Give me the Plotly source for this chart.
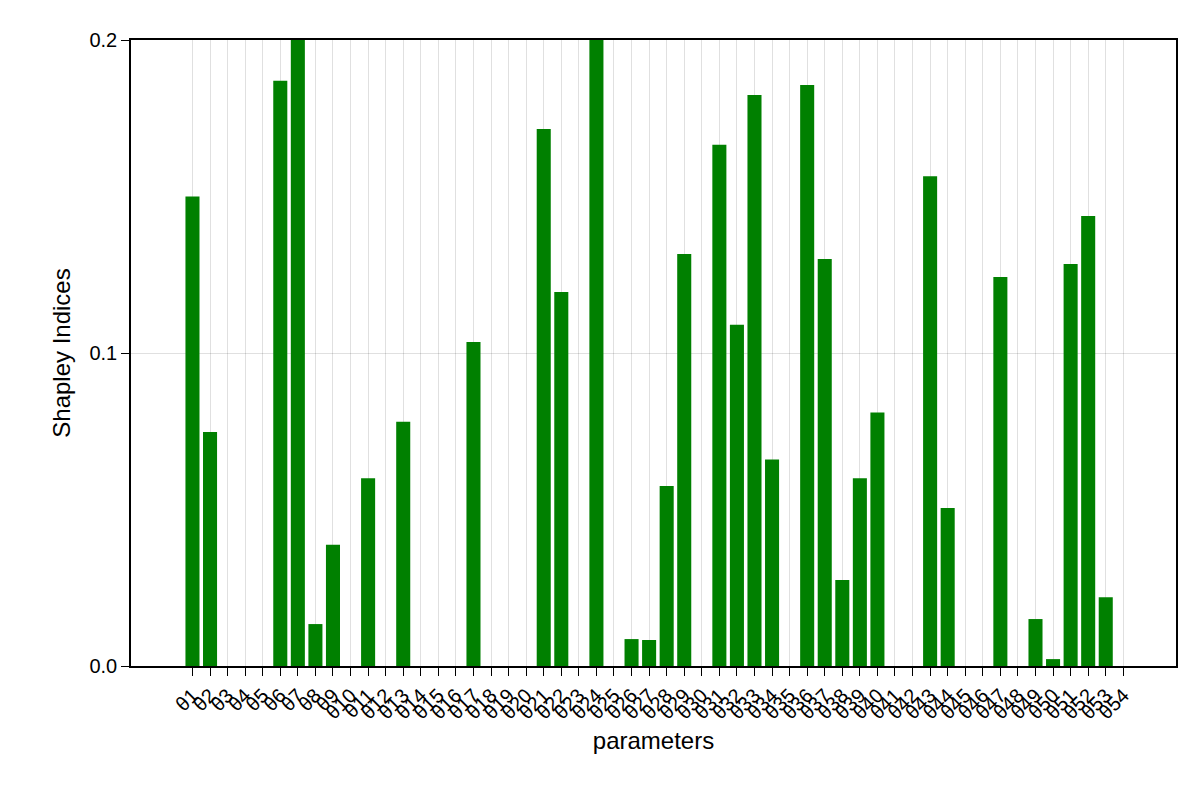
import plotly.graph_objects as go

labels = [f"θ{i}" for i in range(1, 55)]
values = [0.150, 0.0748, 0, 0, 0, 0.187, 0.21, 0.0134, 0.0387, 0,
          0.060, 0, 0.078, 0, 0, 0, 0.1035, 0, 0, 0,
          0.1716, 0.1195, 0, 0.21, 0, 0.0086, 0.0083, 0.0575, 0.1316, 0,
          0.1665, 0.109, 0.1824, 0.066, 0, 0.1856, 0.130, 0.0275, 0.060, 0.081,
          0, 0, 0.1565, 0.0505, 0, 0, 0.1243, 0, 0.015, 0.0022,
          0.1284, 0.1438, 0.022, 0]
xs = list(range(1, 55))

fig = go.Figure(go.Bar(x=xs, y=values, marker_color="#008000", marker_line_width=0, width=0.8))
fig.update_layout(
    width=1200, height=800, plot_bgcolor="white", paper_bgcolor="white",
    margin=dict(l=123, r=32, t=32, b=142),
    font=dict(family="Liberation Sans, Arial", size=20, color="black"),
    showlegend=False,
)
fig.update_xaxes(
    range=[-2.5, 57.0], tickmode="array", tickvals=xs, ticktext=labels, tickangle=-45,
    showgrid=True, gridcolor="rgba(0,0,0,0.12)", gridwidth=1,
    ticks="outside", ticklen=8, tickcolor="black",
    showline=True, linecolor="black", linewidth=1.5, mirror=True,
    title=dict(text="parameters", standoff=10), zeroline=False,
)
fig.update_yaxes(
    range=[0, 0.2], tickvals=[0, 0.1, 0.2], ticktext=["0.0", "0.1", "0.2"],
    showgrid=True, gridcolor="rgba(0,0,0,0.12)",
    ticks="outside", ticklen=8, tickcolor="black",
    showline=True, linecolor="black", linewidth=1.5, mirror=True,
    title=dict(text="Shapley Indices", standoff=12), zeroline=False,
)
fig.write_html("out.html")
